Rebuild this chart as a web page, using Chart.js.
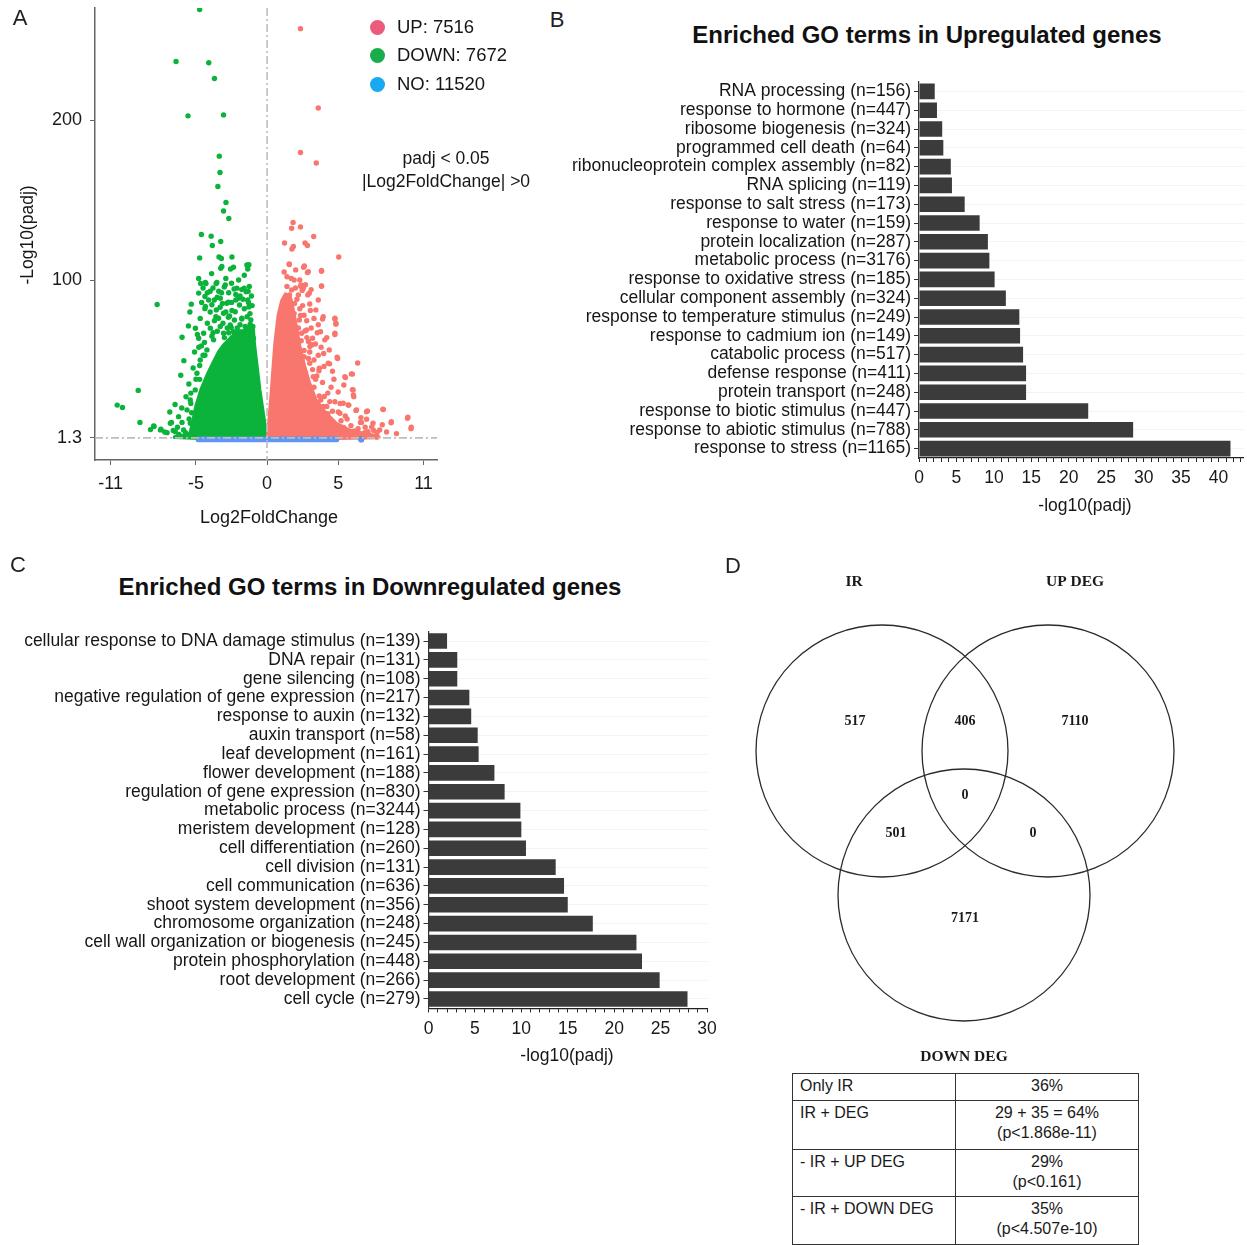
<!DOCTYPE html>
<html>
<head>
<meta charset="utf-8">
<script src="https://cdn.jsdelivr.net/npm/chart.js@4.4.1/dist/chart.umd.min.js"></script>
<style>
  body { margin: 0; background: #fff; }
  #fig { position: relative; width: 1247px; height: 1245px; overflow: hidden;
         font-family: 'Liberation Sans', Arial, sans-serif; color: #161616; }
  .abs { position: absolute; }
  .ctr { position: absolute; transform: translate(-50%, -50%); white-space: nowrap; }
  .panel { font-size: 22px; color: #222; }
  .gotitle { font-size: 24px; font-weight: bold; color: #111; }
  .axt { font-size: 17.5px; }
  .leg { position: absolute; left: 370px; font-size: 18.5px; display: flex; align-items: center; }
  .leg span.dot { display: inline-block; width: 15px; height: 15px; border-radius: 50%; margin-right: 12px; }
  table.stats { position: absolute; left: 792px; top: 1073px; width: 347px; border-collapse: collapse;
                font-size: 16px; color: #1a1a1a; }
  table.stats td { border: 1.3px solid #333; vertical-align: top; line-height: 20px; padding: 2px 0 4px 7px; }
  table.stats td.v { text-align: center; padding-left: 0; width: 182px; }
</style>
</head>
<body>
<div id="fig">
  <canvas id="volcano" class="abs" style="left:0;top:0" width="455" height="540"></canvas>
  <canvas id="goUp" class="abs" style="left:555px;top:60px" width="692" height="470"></canvas>
  <canvas id="goDown" class="abs" style="left:0;top:610px" width="735" height="470"></canvas>
  <canvas id="venn" class="abs" style="left:720px;top:560px" width="527" height="510"></canvas>

  <div class="ctr panel" style="left:20px;top:18px">A</div>
  <div class="ctr panel" style="left:557px;top:20px">B</div>
  <div class="ctr panel" style="left:18px;top:565px">C</div>
  <div class="ctr panel" style="left:733px;top:566px">D</div>

  <div id="legendA"></div>
  <div class="ctr axt" style="left:446px;top:158px">padj &lt; 0.05</div>
  <div class="ctr axt" style="left:446px;top:181px">|Log2FoldChange| &gt;0</div>
  <div class="ctr axt" style="left:27px;top:235px;transform:translate(-50%,-50%) rotate(-90deg)">-Log10(padj)</div>
  <div class="ctr" style="left:269px;top:517px;font-size:18px">Log2FoldChange</div>

  <div class="ctr gotitle" style="left:927px;top:35px">Enriched GO terms in Upregulated genes</div>
  <div class="ctr axt" style="left:1085px;top:505px">-log10(padj)</div>
  <div class="ctr gotitle" style="left:370px;top:587px">Enriched GO terms in Downregulated genes</div>
  <div class="ctr axt" style="left:567px;top:1055px">-log10(padj)</div>

  <table class="stats" id="statsTable"></table>
</div>

<script>
// ---- panel A: volcano ----
const fcCut = 0;
const padjCut = 1.3;
const volcanoXTicks = [-11, -5, 0, 5, 11];
const volcanoYTicks = [1.3, 100, 200];
const degGroups = ["UP", "DOWN", "NO"];
const degCounts = [7516, 7672, 11520];

// solid (overplotted) parts of the clouds
const downCore = [[-0.05,1.3],[-0.05,2],[-0.54,31.5],[-0.91,59.5],[-1.0,70],[-1.16,72],[-1.53,68],[-2.02,68],
  [-2.52,64],[-3.01,59.5],[-3.38,55],[-3.75,48.7],[-4.12,42],[-4.62,31.5],[-4.99,20.7],[-5.23,10],[-5.4,4],
  [-6.0,2.6],[-6.5,1.8],[-4.8,1.3],[-0.05,1.3]];
const upCore = [[0.07,1.3],[0.07,2.4],[0.32,29.3],[0.57,59.5],[0.81,78],[1.06,87],[1.31,91],[1.6,89],[1.85,80],
  [2.05,70],[2.25,59.5],[2.6,46.6],[2.95,35.8],[3.41,25],[4.15,16.4],[4.89,9.9],[5.88,5.6],[7.36,3],[7.85,1.7],
  [5,1.3],[0.07,1.3]];
const noBand = [[-4.85,0.7],[4.9,0.7],[4.9,0.2],[-4.85,0.2],[-4.85,0.7]];
const noPoints = [[6.62,0.3]];

const downPoints = [
  [-4.74,269],[-6.4,236.6],[-4.1,235.8],[-3.7,225.9],[-5.56,202.6],[-3.06,203.2],[-3.36,177.4],[-3.31,167.2],
  [-3.46,158.4],[-2.89,148.5],[-3.06,143.1],[-2.69,138.4],[-4.62,128.4],[-3.93,127.4],[-3.26,124.1],[-3.85,121.6],
  [-4.74,113.8],[-3.38,114.4],[-3.21,113.4],[-2.47,114.4],[-3.26,107.3],[-2.57,106.9],[-1.28,109.5],[-1.36,106.9],
  [-4.81,100.9],[-4.67,97.8],[-4.3,97.8],[-3.58,97.8],[-3.01,95.7],[-2.32,94.4],[-1.78,94.0],[-1.33,92.9],
  [-4.81,91.8],[-4.37,89.7],[-3.51,89.2],[-2.72,86.2],[-2.02,88.6],[-1.36,87.5],[-7.73,84.7],[-5.33,84.9],
  [-3.88,84.5],[-3.14,85.3],[-2.47,81.0],[-1.28,83.2],[-5.43,80.0],[-4.37,82.1],[-3.7,74.6],[-2.72,76.7],
  [-1.78,75.6],[-1.19,72.4],[-5.53,71.3],[-3.8,67.0],[-2.52,70.3],[-1.53,68.1],[-5.04,69.8],[-5.98,64.2],
  [-3.88,64.9],[-1.16,65.9],[-4.62,58.8],[-4.37,53.0],[-5.85,49.6],[-4.74,46.6],[-6.07,40.5],[-4.74,37.9],
  [-5.36,29.3],[-9.06,31.0],[-10.54,21.8],[-10.17,20.3],[-6.47,22.2],[-5.36,22.8],[-6.84,17.5],[-8.94,11.0],
  [-7.95,8.4],[-7.46,6.7],[-6.72,11.0],[-5.98,11.0],[-5.48,13.1],[-4.99,17.5],[-5.11,5.6],[-5.73,4.5],[-6.2,3.4],
  [-3.18,108.4],[-2.36,108],[-1.42,109.4],[-4.34,98.4],[-3.53,98.4],[-2.94,96.9],[-2.12,94.9],[-1.61,94.9],
  [-1.47,92.7],[-4.11,87.5],[-3.71,87.5],[-3.29,88.6],[-2.83,85.5],[-2.2,87.5],[-1.94,84.4],[-1.31,85.9],
  [-4.34,83.4],[-3.57,81.3],[-3.41,76.1],[-3.06,79.2],[-2.64,77.5],[-2.24,80.2],[-1.77,76.1],[-1.14,75.1],
  [-1.31,68.8],[-4.81,63.6],[-4.46,66.7],[-3.99,69.9],[-3.29,70.9],[-2.59,71.9],[-2.01,65.7],[-1.54,70.9],
  [-1.0,70.9],[-0.96,63.6],[-3.06,66.7],[-2.36,67.7],[-3.76,62.6],[-4.23,56.3],[-4.7,50],[-4.93,41.7],
  [-5.05,31.3],[-5.4,25],[-5.63,18.8],[-6.22,14.6],[-6.8,10.5],[-5.4,10.5],[-5.87,6.3],[-6.45,5.2],[-7.03,4.6],
  [-7.5,6.3],[-7.97,8.8],[-2.9,101],[-2.0,100],[-1.6,103],[-3.9,104],[-2.7,92],[-1.9,90],[-3.2,92],[-4.0,93],
  [-4.5,95],[-4.2,92],[-3.8,95],[-3.4,93],[-2.5,98],[-2.2,91],[-1.7,88],[-1.25,96],[-1.1,90],
  [-4.6,86],[-4.0,80],[-3.3,83],[-2.9,80],[-2.5,86],[-1.6,82],[-1.2,79],[-1.05,84],
  [-4.7,76],[-4.2,73],[-3.6,77],[-3.1,73],[-2.8,70],[-2.3,75],[-1.9,72],[-1.4,77],[-1.1,68],
  [-4.9,66],[-4.4,61],[-3.5,68],[-3.0,64],[-2.7,67],[-2.1,70],[-1.7,66],[-1.3,62],
  [-5.1,55],[-4.8,58],[-4.5,53],[-5.2,45],[-5.0,38],[-5.5,35],[-5.3,17],[-5.7,27],[-6.0,20],[-6.3,8],[-6.6,6],
  [-7.2,5],[-8.2,6.5]
];
const upPoints = [
  [2.35,257.1],[3.6,207.5],[2.35,179.7],[3.46,173.1],[1.83,136.0],[2.35,133.2],[1.73,132.3],[3.28,127.2],
  [1.23,123.1],[1.85,120.9],[1.75,119.4],[2.67,123.1],[2.84,121.6],[5.04,114.4],[1.56,109.7],[2.57,108.0],
  [2.84,104.7],[3.83,105.4],[2.37,96.1],[2.47,93.5],[2.86,90.7],[3.83,96.1],[1.58,90.7],[3.6,87.5],[1.93,85.3],
  [3.04,81.0],[2.35,77.8],[3.9,75.6],[4.77,75.6],[4.84,72.4],[2.79,74.6],[3.53,67.0],[2.67,68.1],[4.77,65.9],
  [2.91,61.6],[3.16,59.5],[3.98,54.1],[4.96,50.9],[6.37,48.1],[4.4,47.6],[2.91,50.9],[3.65,43.3],[6.0,41.2],
  [5.51,39.0],[3.41,37.9],[6.0,31.5],[6.07,28.2],[4.27,29.3],[3.78,25.0],[5.14,22.8],[5.75,21.8],[6.25,18.5],
  [7.06,18.1],[8.17,19.0],[5.01,17.5],[5.63,13.1],[6.57,11.0],[7.36,8.2],[8.1,9.5],[8.72,10.8],[9.88,13.6],
  [10.12,7.1],[7.73,4.5],[7.73,1.9],[6.86,4.5],[6.12,5.6],[5.38,7.8],[4.64,11.0],[4.27,16.4],[4.02,27.2],[4.77,23.9],
  [1.56,110],[2.62,108.8],[2.9,105.2],[3.83,105.9],[2.01,106.3],[2.38,96.9],[2.55,94.9],[2.97,91.7],[3.83,96.3],
  [1.73,93.8],[2.2,90.7],[1.61,87.5],[3.43,81.3],[3.95,77.1],[4.77,76.1],[4.84,73],[2.27,75],[2.78,68.8],
  [3.2,63.6],[3.76,67.7],[2.43,66.7],[3.01,58.4],[4.06,62.6],[4.77,66.7],[4.37,56.3],[4.93,51.7],[3.67,44.9],
  [3.25,39.6],[4.3,48],[5.47,39.6],[5.93,41.3],[5.4,34.4],[6.05,31.3],[6.1,27.1],[5.35,23],[4.41,24],[3.67,27.5],
  [3.95,20.9],[5.12,16.7],[5.7,21.9],[6.29,18.8],[6.99,17.7],[8.15,19.2],[6.64,10.9],[7.45,10.5],[8.74,11.5],
  [9.9,14.2],[10.14,8],[7.92,6.3],[7.1,5.2],[7.69,2.1],[1.9,100],[2.1,88],[2.5,84],[1.4,102],[2.2,70],[2.6,56],
  [3.0,48],[3.3,33],[2.7,42],
  [1.2,105],[1.4,96],[1.7,101],[2.0,95],[2.3,100],[2.7,97],[3.1,94],
  [1.6,84],[1.9,79],[2.3,82],[2.6,78],[3.0,85],[3.3,76],[3.6,72],
  [2.0,66],[2.4,62],[2.8,64],[3.1,70],[3.4,60],[3.8,58],[4.2,64],
  [2.6,52],[3.0,55],[3.3,50],[3.6,53],[4.0,46],[4.6,43],[3.2,44],[3.5,40],[3.9,36],[4.5,33],[5.0,30],[4.7,38],
  [4.2,21],[4.6,18],[5.2,12],[5.5,15],[5.9,9],[6.4,7],[6.9,8],[7.5,6],[8.4,5],[9.1,4],[6.6,14],[7.0,13]
];

const xy = (arr) => arr.map(([x, y]) => ({ x, y }));

const thresholdLines = {
  id: "thresholdLines",
  afterDatasetsDraw(chart) {
    const { ctx, chartArea: a, scales: { x, y } } = chart;
    ctx.save();
    ctx.strokeStyle = "#bdbdbd";
    ctx.lineWidth = 1.6;
    ctx.setLineDash([8, 3, 2, 3]);
    const px = x.getPixelForValue(fcCut);
    ctx.beginPath(); ctx.moveTo(px, a.top); ctx.lineTo(px, a.bottom); ctx.stroke();
    const py = y.getPixelForValue(padjCut);
    ctx.beginPath(); ctx.moveTo(a.left, py); ctx.lineTo(a.right, py); ctx.stroke();
    ctx.restore();
  },
};

const GREEN = "#0bb33b", RED = "#f8766d", BLUE = "#5f96f4";
const axisFont = { size: 18 };

new Chart(document.getElementById("volcano"), {
  type: "scatter",
  data: {
    datasets: [
      { data: xy(noPoints), backgroundColor: BLUE, pointRadius: 3 },
      { data: xy(noBand), showLine: true, fill: "shape", backgroundColor: BLUE, borderColor: BLUE,
        borderWidth: 5, borderJoinStyle: "round", pointRadius: 0 },
      { data: xy(upPoints), backgroundColor: RED, pointRadius: 2.7, borderWidth: 0 },
      { data: xy(downPoints), backgroundColor: GREEN, pointRadius: 2.7, borderWidth: 0 },
      { data: xy(upCore), showLine: true, fill: "shape", backgroundColor: RED, borderColor: RED,
        borderWidth: 4, borderJoinStyle: "round", pointRadius: 0 },
      { data: xy(downCore), showLine: true, fill: "shape", backgroundColor: GREEN, borderColor: GREEN,
        borderWidth: 4, borderJoinStyle: "round", pointRadius: 0 },
    ],
  },
  options: {
    responsive: false,
    animation: false,
    layout: { autoPadding: false, padding: { top: 8, right: 18, left: 0, bottom: 0 } },
    plugins: { legend: { display: false }, tooltip: { enabled: false } },
    scales: {
      x: {
        min: -12.1, max: 11.95,
        afterFit: (s) => { s.height = 80; s.paddingLeft = 0; s.paddingRight = 0; },
        afterBuildTicks: (s) => { s.ticks = volcanoXTicks.map((v) => ({ value: v })); },
        ticks: { font: axisFont, color: "#1a1a1a", padding: 8, maxRotation: 0 },
        grid: { drawOnChartArea: false, tickLength: 5, tickColor: "#666" },
        border: { color: "#666", width: 1.5 },
      },
      y: {
        min: -12.5, max: 270,
        afterFit: (s) => { s.width = 95; s.paddingTop = 0; s.paddingBottom = 0; },
        afterBuildTicks: (s) => { s.ticks = volcanoYTicks.map((v) => ({ value: v })); },
        ticks: { font: axisFont, color: "#1a1a1a", padding: 8 },
        grid: { drawOnChartArea: false, tickLength: 5, tickColor: "#666" },
        border: { color: "#666", width: 1.5 },
      },
    },
  },
  plugins: [thresholdLines],
});

const legendColors = ["#ea5b7d", "#17ad4b", "#1aa8ef"];
const legendTops = [27, 55, 84];
document.getElementById("legendA").innerHTML = degGroups.map((g, i) =>
  `<div class="leg" style="top:${legendTops[i] - 11}px"><span class="dot" style="background:${legendColors[i]}"></span>${g}: ${degCounts[i]}</div>`
).join("");

// ---- panels B and C: GO enrichment ----
const upTerms = ["RNA processing", "response to hormone", "ribosome biogenesis", "programmed cell death",
  "ribonucleoprotein complex assembly", "RNA splicing", "response to salt stress", "response to water",
  "protein localization", "metabolic process", "response to oxidative stress", "cellular component assembly",
  "response to temperature stimulus", "response to cadmium ion", "catabolic process", "defense response",
  "protein transport", "response to biotic stimulus", "response to abiotic stimulus", "response to stress"];
const upGeneCounts = [156, 447, 324, 64, 82, 119, 173, 159, 287, 3176, 185, 324, 249, 149, 517, 411, 248, 447, 788, 1165];
const upScores = [2.1, 2.4, 3.1, 3.25, 4.25, 4.4, 6.1, 8.1, 9.2, 9.4, 10.1, 11.6, 13.4, 13.5, 13.9, 14.3, 14.3, 22.6, 28.6, 41.6];

const downTerms = ["cellular response to DNA damage stimulus", "DNA repair", "gene silencing",
  "negative regulation of gene expression", "response to auxin", "auxin transport", "leaf development",
  "flower development", "regulation of gene expression", "metabolic process", "meristem development",
  "cell differentiation", "cell division", "cell communication", "shoot system development",
  "chromosome organization", "cell wall organization or biogenesis", "protein phosphorylation",
  "root development", "cell cycle"];
const downGeneCounts = [139, 131, 108, 217, 132, 58, 161, 188, 830, 3244, 128, 260, 131, 636, 356, 248, 245, 448, 266, 279];
const downScores = [2.0, 3.1, 3.1, 4.4, 4.6, 5.3, 5.4, 7.1, 8.2, 9.9, 10.0, 10.5, 13.7, 14.6, 15.0, 17.7, 22.4, 23.0, 24.9, 27.9];

function goChart(id, terms, counts, scores, xMax, yWidth, xHeight, pad) {
  return new Chart(document.getElementById(id), {
    type: "bar",
    data: {
      labels: terms.map((t, i) => `${t} (n=${counts[i]})`),
      datasets: [{ data: scores, backgroundColor: "#3b3b3b", barPercentage: 0.83, categoryPercentage: 1 }],
    },
    options: {
      indexAxis: "y",
      responsive: false,
      animation: false,
      layout: { autoPadding: false, padding: pad },
      plugins: { legend: { display: false }, tooltip: { enabled: false } },
      scales: {
        x: {
          min: 0, max: xMax,
          afterFit: (s) => { s.height = xHeight; },
          afterBuildTicks: (s) => {
            const t = [];
            for (let v = 0; v <= Math.floor(xMax); v++) t.push({ value: v });
            s.ticks = t;
          },
          ticks: { font: { size: 17.5 }, color: "#1a1a1a", padding: 6, maxRotation: 0, autoSkip: false,
                   callback: (v) => (v % 5 === 0 ? v : "") },
          grid: { drawOnChartArea: false, tickLength: 4, tickColor: "#222" },
          border: { color: "#222", width: 1.2 },
        },
        y: {
          afterFit: (s) => { s.width = yWidth; },
          ticks: { font: { size: 17.5 }, color: "#161616", padding: 3, autoSkip: false },
          grid: { offset: false, color: "#f3f3f3", tickLength: 5, tickColor: "#333" },
          border: { color: "#333", width: 1.2 },
        },
      },
    },
  });
}

goChart("goUp", upTerms, upGeneCounts, upScores, 43.3, 364, 72, { top: 22, right: 3, left: 0, bottom: 0 });
goChart("goDown", downTerms, downGeneCounts, downScores, 30, 428.5, 71.6, { top: 21.6, right: 28, left: 0, bottom: 0 });

// ---- panel D: Venn diagram + table ----
const vennSets = ["IR", "UP DEG", "DOWN DEG"];
const vennSetLabelPos = [[854, 582], [1075, 582], [964, 1057]];
const vennCircles = [[882, 751], [1048, 751], [964, 895]];
const vennRadius = 126;
const vennRegions = ["IR only", "IR & UP", "UP only", "IR & UP & DOWN", "IR & DOWN", "UP & DOWN", "DOWN only"];
const vennCounts = [517, 406, 7110, 0, 501, 0, 7171];
const vennRegionPos = [[855, 721], [965, 721], [1075, 721], [965, 795], [896, 833], [1033, 833], [965, 918]];

const vennText = {
  id: "vennText",
  afterDatasetsDraw(chart) {
    const { ctx, scales: { x, y } } = chart;
    ctx.save();
    ctx.fillStyle = "#1a1a1a";
    ctx.textAlign = "center";
    ctx.textBaseline = "middle";
    ctx.font = "bold 14px 'Liberation Serif', 'Times New Roman', serif";
    vennCounts.forEach((c, i) => {
      ctx.fillText(String(c), x.getPixelForValue(vennRegionPos[i][0]), y.getPixelForValue(vennRegionPos[i][1]));
    });
    ctx.font = "bold 15.5px 'Liberation Serif', 'Times New Roman', serif";
    vennSets.forEach((s, i) => {
      ctx.fillText(s, x.getPixelForValue(vennSetLabelPos[i][0]), y.getPixelForValue(vennSetLabelPos[i][1]));
    });
    ctx.restore();
  },
};

new Chart(document.getElementById("venn"), {
  type: "bubble",
  data: {
    datasets: [{
      data: vennCircles.map(([cx, cy]) => ({ x: cx, y: cy, r: vennRadius })),
      backgroundColor: "rgba(0,0,0,0)",
      borderColor: "#2a2a2a",
      borderWidth: 1.3,
      hoverRadius: 0,
      clip: false,
    }],
  },
  options: {
    responsive: false,
    animation: false,
    layout: { autoPadding: false, padding: 0 },
    plugins: { legend: { display: false }, tooltip: { enabled: false } },
    scales: {
      x: { display: false, min: 720, max: 1247 },
      y: { display: false, min: 560, max: 1070, reverse: true },
    },
  },
  plugins: [vennText],
});

const statRows = ["Only IR", "IR + DEG", "- IR + UP DEG", "- IR + DOWN DEG"];
const statShares = ["36%", "29 + 35 = 64%", "29%", "35%"];
const statPvals = ["", "(p<1.868e-11)", "(p<0.161)", "(p<4.507e-10)"];
const statHeights = [27, 49, 47, 48];
document.getElementById("statsTable").innerHTML = statRows.map((r, i) =>
  `<tr style="height:${statHeights[i]}px"><td>${r}</td><td class="v">${statShares[i]}${statPvals[i] ? "<br>" + statPvals[i].replace("<", "&lt;") : ""}</td></tr>`
).join("");
</script>
</body>
</html>
